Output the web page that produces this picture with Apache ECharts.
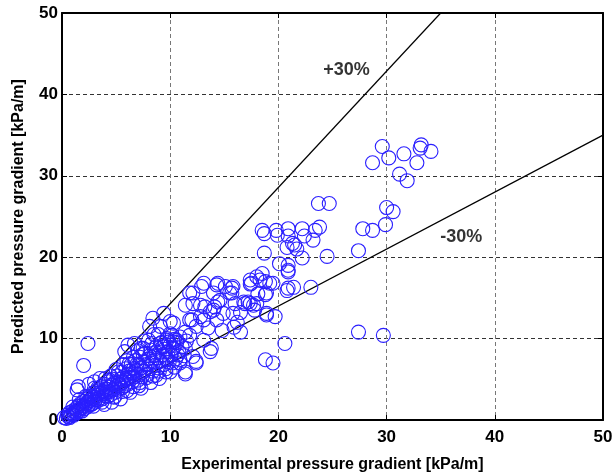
<!DOCTYPE html>
<html>
<head>
<meta charset="utf-8">
<script src="https://cdn.jsdelivr.net/npm/echarts@6/dist/echarts.min.js"></script>
<style>html,body{margin:0;padding:0;background:#fff}#c{width:614px;height:475px}</style>
</head>
<body>
<div id="c"></div>
<script>
var xTicks = [0, 10, 20, 30, 40, 50];
var yTicks = [0, 10, 20, 30, 40, 50];
var xLabel = 'Experimental pressure gradient [kPa/m]';
var yLabel = 'Predicted pressure gradient [kPa/m]';

// dense cluster near the origin
var lowPoints = [
[0.2,0.3],[0.4,0.2],[0.5,0.6],[0.6,0.4],[0.7,0.9],[0.8,0.5],[0.9,0.7],[1.0,1.1],[1.05,0.8],[1.1,0.6],[1.2,1.0],[1.3,1.4],[1.35,0.9],[1.4,1.2],[1.5,1.7],[1.55,1.0],[1.6,1.3],[1.7,2.0],[1.8,1.5],[1.85,1.1],[1.9,1.8],[2.0,2.3],[2.05,1.4],[2.1,1.7],[2.2,2.0],[2.3,2.6],[2.35,1.6],[2.4,2.2],[2.5,1.9],[2.6,2.9],[2.65,2.4],[2.7,1.9],[2.8,2.6],[2.9,3.3],[3.0,2.2],[3.05,2.8],[3.1,2.5],[3.2,3.6],[3.3,3.0],[3.35,2.4],[3.4,3.3],[3.5,2.7],[3.6,4.1],[3.65,3.2],[3.7,2.6],[3.8,3.5],[3.9,4.4],[4.0,3.0],[4.05,3.8],[4.1,3.4],[4.2,2.9],[4.3,4.7],[4.35,4.0],[4.4,3.5],[4.5,3.1],[4.6,4.3],[4.7,5.0],[4.75,3.7],[4.8,4.5],[4.9,3.4],[5.0,4.1],[5.1,5.4],[5.15,4.7],[5.2,3.8],[5.3,4.4],[5.4,5.0],[5.5,3.9],[5.55,5.9],[5.6,4.6],[5.7,5.3],[5.8,4.2],[5.9,6.3],[6.0,5.0],[6.05,5.6],[6.1,4.4],[6.2,6.0],[6.3,5.2],[6.4,6.8],[6.5,4.7],[6.55,5.8],[6.6,6.3],[6.7,5.3],[6.8,7.3],[6.9,6.1],[7.0,4.9],[7.05,6.7],[7.1,5.6],[7.2,7.7],[7.3,6.4],[7.4,5.3],[7.5,7.1],[7.6,6.0],[7.7,8.2],[7.8,6.8],[7.9,5.6],[8.0,7.5],[8.1,6.3],[8.2,8.6],[8.3,7.2],[8.4,6.0],[8.5,7.9],[8.6,6.7],[8.7,9.0],[8.8,7.6],[8.9,6.4],[9.0,8.3],[9.1,7.2],[9.2,9.5],[9.3,8.0],[9.4,6.8],[9.5,8.7],[9.6,7.5],[9.7,10.0],[9.8,8.4],[9.9,7.1],[10.0,9.2],[10.1,8.0],[10.2,10.4],[10.3,8.8],[10.5,7.5],[10.6,9.5],[10.8,8.4],[10.9,10.2],[11.1,9.0],[11.3,7.9],[11.5,9.7],
[2.4,9.4],[2.0,6.7],[1.5,4.1],[2.5,4.4],[1.4,3.7],[3.0,4.7],[3.5,5.1],
[3.9,1.9],[4.6,2.2],[5.4,2.6],[6.3,3.4],[7.3,3.9],[8.2,4.6],[9.0,5.1],[10.0,5.9],
[9.4,13.1],[8.4,12.5],[10.0,12.1],[8.1,11.5],[9.1,11.5],[10.3,11.9],[6.1,9.2],[6.7,9.4],[7.5,8.8],[8.3,9.4],[9.1,9.4],[5.8,8.4],[9.7,9.8],[10.6,9.8],
[2.2,2.9],[2.8,2.0],[3.3,3.9],[3.9,3.2],[4.4,4.9],[4.9,2.9],[5.2,5.9],[5.6,3.5],[5.9,4.9],[6.2,6.9],[6.6,4.1],[6.9,6.8],[7.2,4.6],[7.5,8.1],[7.8,5.2],[8.1,7.9],[8.4,5.4],[8.7,8.3],[9.0,6.0],[9.3,9.0],[9.6,6.3],[9.9,9.6],[10.2,7.0],[10.4,9.9],[10.7,8.0],[7.0,8.5],[6.0,7.3],[5.0,6.2],[8.0,9.8],[8.9,10.5],[7.6,9.7],[4.0,5.1],[6.6,7.7],[3.0,3.9],[4.5,5.4],[5.7,6.8],[7.3,8.8],[8.5,10.5],[1.0,1.6],[0.7,0.3],[1.6,2.5],[2.9,1.7],[3.7,2.2],[4.8,2.8],[6.0,3.6],[7.1,4.2],[8.7,5.5],[9.6,5.9],[10.4,6.5]
];

// middle band
var midPoints = [
[14.3,16.6],[15.7,16.2],[17.5,16.8],[11.8,15.6],[15.5,15.6],[12.1,14.3],[13.2,13.9],[14.4,14.5],[16.8,14.5],[17.4,14.3],[14.0,13.5],[12.8,12.7],[11.8,12.3],[14.3,12.3],[15.8,13.1],[12.4,11.5],[13.5,11.3],[11.4,10.8],[10.0,10.6],[10.3,9.6],[11.8,10.4],[13.1,9.8],[9.4,9.0],[11.4,8.8],[13.8,8.8],[12.1,7.8],[9.7,7.4],[10.9,7.0],[12.4,7.0],[11.4,5.9],
[11.4,5.65],[12.4,7.2],[13.7,8.4],[10.9,7.4],[14.8,11.0],[15.9,11.4],[16.2,12.0],
[15.8,16.4],[15.7,15.6],[15.1,16.4],[14.4,16.8],[13.1,16.8],[12.9,16.4],[12.1,15.6],[14.0,15.6],[14.6,14.7],[16.0,14.3],[11.4,14.1],[12.8,14.1],[14.1,13.9],[13.7,13.3],[14.9,13.1],[13.1,12.3],[12.0,12.3],[16.5,13.2],
[17.4,17.2],[18.3,17.2],[19.2,16.8],[20.9,18.2],[20.9,16.2],[18.0,14.3],[18.8,15.4],[17.8,13.5],[18.9,12.9],[16.5,10.8],[20.6,9.4],[18.8,7.4],[19.5,7.0]
];

// upper part
var highPoints = [
[18.5,23.3],[18.7,22.9],[19.8,23.3],[19.9,22.7],[20.9,23.5],[20.9,22.6],[22.2,23.5],[22.4,22.6],[23.8,23.7],[23.4,23.3],[23.2,22.1],[21.3,21.7],[20.8,21.2],[21.5,21.5],[21.7,21.0],[18.7,20.5],[22.2,19.9],[24.5,20.1],[20.1,19.2],[20.9,19.0],[20.9,18.4],[21.4,16.3],[20.8,15.9],[23.0,16.3],[18.5,18.0],[18.0,17.6],[18.8,17.0],[19.5,16.8],[18.9,15.6],[18.1,15.5],[17.4,16.7],[17.2,14.5],[17.7,14.1],[16.9,14.3],[18.9,13.1],[19.7,12.7],
[23.7,26.6],[24.7,26.6],
[29.6,33.6],[33.2,33.8],[33.1,33.4],[34.1,33.0],[28.7,31.6],[30.2,32.2],[31.6,32.7],[32.8,31.6],[31.2,30.2],[31.9,29.4],
[30.0,26.1],[30.6,25.6],[29.9,24.0],[27.8,23.5],[28.7,23.3],[27.4,20.8],[27.4,10.8],[29.7,10.4]
];

var upperLine = [[0, 0], [35, 50]];
var lowerLine = [[0, 0], [50, 35]];
var lineLabels = [{ value: [26.3, 43.0], text: '+30%' }, { value: [36.9, 22.5], text: '-30%' }];

var allPoints = lowPoints.concat(midPoints, highPoints);
var FONT = 'Liberation Sans, Arial, sans-serif';
var chart = echarts.init(document.getElementById('c'), null, { renderer: 'canvas' });

function baseAxis(pos, showLabel, ticks) {
  return {
    type: 'value', position: pos, min: 0, max: 50, interval: 10,
    axisLine: { show: true, onZero: false, lineStyle: { color: '#000', width: 2 } },
    axisTick: { show: true, inside: true, length: 5, lineStyle: { color: '#000', width: 1 } },
    axisLabel: { show: showLabel, color: '#000', fontFamily: FONT, fontWeight: 'bold', fontSize: 17,
      formatter: function (v) { return ticks.indexOf(v) >= 0 ? String(v) : ''; } },
    splitLine: { show: false }
  };
}

var xMain = baseAxis('bottom', true, xTicks);
xMain.name = xLabel; xMain.nameLocation = 'middle'; xMain.nameGap = 37;
xMain.nameTextStyle = { color: '#000', fontFamily: FONT, fontWeight: 'bold', fontSize: 16 };
xMain.axisLabel.margin = 9;
xMain.splitLine = { show: true, lineStyle: { color: '#777', type: [4, 3], width: 1 } };
var xTop = baseAxis('top', false, xTicks);

var yMain = baseAxis('left', true, yTicks);
yMain.name = yLabel; yMain.nameLocation = 'middle'; yMain.nameGap = 35;
yMain.nameTextStyle = { color: '#000', fontFamily: FONT, fontWeight: 'bold', fontSize: 16 };
yMain.axisLabel.margin = 4;
yMain.splitLine = { show: true, lineStyle: { color: '#333', type: [4, 3], width: 1 } };
var yRight = baseAxis('right', false, yTicks);

chart.setOption({
  animation: false,
  backgroundColor: '#fff',
  grid: { left: 62, right: 11, top: 13, bottom: 55, containLabel: false, outerBoundsMode: 'none' },
  xAxis: [xMain, xTop],
  yAxis: [yMain, yRight],
  series: [
    { type: 'line', data: upperLine, symbol: 'none', lineStyle: { color: '#000', width: 1.2 }, z: 3 },
    { type: 'line', data: lowerLine, symbol: 'none', lineStyle: { color: '#000', width: 1.2 }, z: 3 },
    { type: 'scatter', data: allPoints, symbol: 'circle', symbolSize: 14,
      itemStyle: { color: 'rgba(0,0,0,0)', borderColor: '#2a1fff', borderWidth: 1.1, opacity: 1 }, z: 4 },
    { type: 'scatter', symbolSize: 0, z: 5,
      data: lineLabels.map(function (d) { return { value: d.value, name: d.text }; }),
      label: { show: true, position: 'inside', formatter: '{b}', color: '#000',
        fontFamily: FONT, fontWeight: 'bold', fontSize: 18 } }
  ]
});
</script>
</body>
</html>
